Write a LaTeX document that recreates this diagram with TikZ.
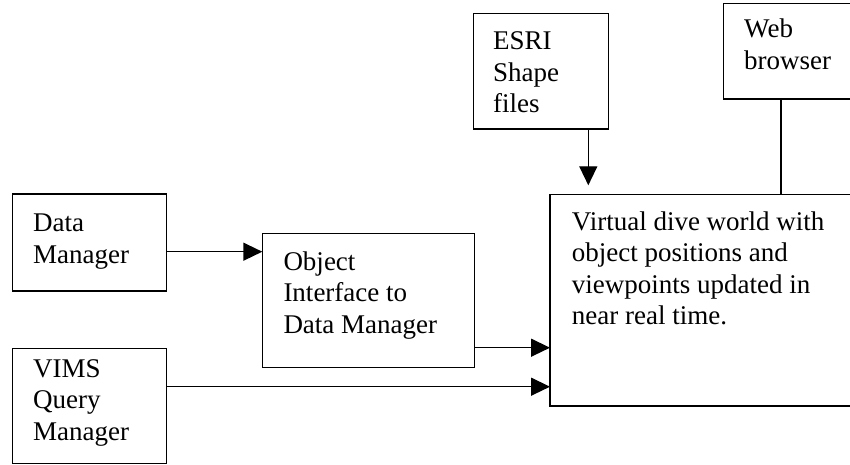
\documentclass[tikz,border=0pt]{standalone}
\usepackage{fontspec}
\setmainfont{Liberation Serif}
\usetikzlibrary{arrows.meta,calc}
\begin{document}
\begin{tikzpicture}[x=1pt,y=-1pt,
  box/.style={draw,line width=1.4pt,inner sep=0pt,outer sep=0pt,anchor=north west},
  % base west sits on the baseline of the last line of a label
  txt/.style={anchor=base west,inner sep=0pt,align=left,font=\fontsize{27}{31.5}\selectfont},
  arr/.style={line width=1.4pt,-{Triangle[length=19pt,width=18pt]}},
  link/.style={line width=1.4pt}]
\useasboundingbox (0,0) rectangle (850,465);
\clip (0,0) rectangle (850,465);

% boxes
\node[box,minimum width=154pt,minimum height=97pt]    (dm) at (12.7,194)  {};
\node[box,minimum width=212pt,minimum height=134.4pt] (oi) at (262.3,233.3) {};
\node[box,minimum width=154pt,minimum height=114.7pt] (vq) at (12.7,348.6) {};
\node[box,minimum width=135pt,minimum height=115.7pt] (es) at (473.3,13.3) {};
\node[box,minimum width=160pt,minimum height=95.7pt]  (wb) at (723.3,3.3)  {};
\node[box,minimum width=330pt,minimum height=211.7pt] (vw) at (550,194.3)  {};

% labels
\node[txt] (dmt) at ($(dm.north west)+(20.3,69.2)$) {Data\\Manager};
\node[txt] (oit) at ($(oi.north west)+(21,99.7)$) {Object\\Interface to\\Data Manager};
\node[txt] (vqt) at ($(vq.north west)+(20.3,91.4)$) {VIMS\\Query\\Manager};
\node[txt] (est) at ($(es.north west)+(19.7,99.7)$) {ESRI\\Shape\\files};
\node[txt] (wbt) at ($(wb.north west)+(20.7,66.2)$) {Web\\browser};
\node[txt] (vwt) at ($(vw.north west)+(21.7,130.2)$) {Virtual dive world with\\object positions and\\viewpoints updated in\\near real time.};

% connectors
\coordinate (a1) at (0,251.7);
\coordinate (a2) at (0,347.7);
\coordinate (a3) at (0,386.7);
\coordinate (a4) at (588.3,0);
\coordinate (a5) at (781,0);
\draw[arr] (dm.east |- a1) -- (oi.west |- a1);
\draw[arr] (oi.east |- a2) -- (vw.west |- a2);
\draw[arr] (vq.east |- a3) -- (vw.west |- a3);
\draw[arr,shorten >=9pt] (es.south -| a4) -- (vw.north -| a4);
\draw[link] (wb.south -| a5) -- (vw.north -| a5);
\end{tikzpicture}
\end{document}
